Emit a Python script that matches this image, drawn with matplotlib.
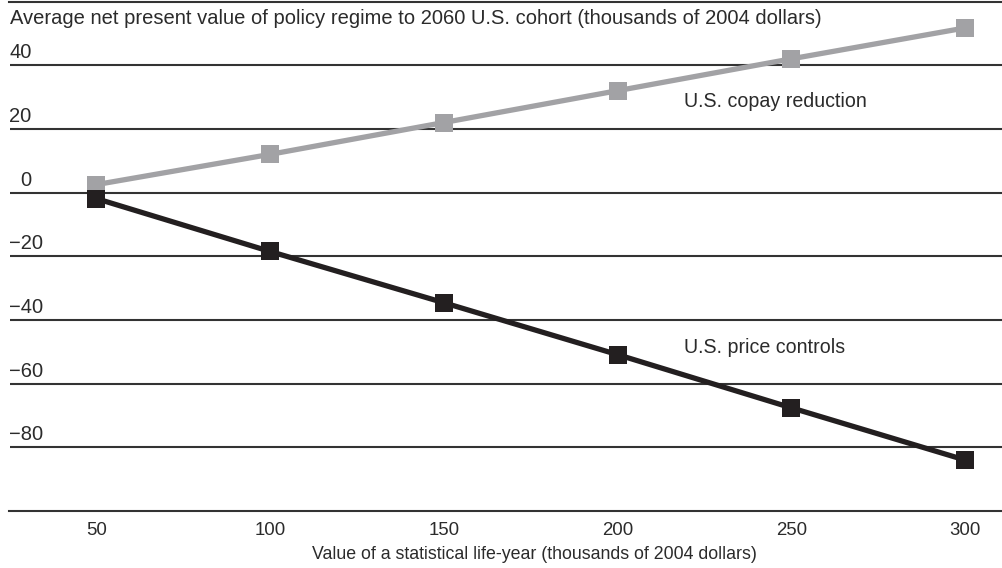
import matplotlib
matplotlib.use("Agg")
import matplotlib.pyplot as plt
from matplotlib.transforms import blended_transform_factory, offset_copy

# Data
vsly = [50, 100, 150, 200, 250, 300]
copay_reduction = [2.5, 12.0, 22.0, 32.0, 42.0, 51.7]
price_controls = [-1.9, -18.5, -34.6, -50.9, -67.6, -84.0]
y_ticks = [40, 20, 0, -20, -40, -60, -80]
x_ticks = [50, 100, 150, 200, 250, 300]

title = "Average net present value of policy regime to 2060 U.S. cohort (thousands of 2004 dollars)"
xlabel = "Value of a statistical life-year (thousands of 2004 dollars)"

plt.rcParams['font.family'] = ['Liberation Sans', 'DejaVu Sans']
TXT = '#2b2b2b'
GRID = '#333333'

fig = plt.figure(figsize=(10.02, 5.68), dpi=100)
ax = fig.add_axes([9.5 / 1002, 1 - 511 / 568, 1 - 9.5 / 1002, (511 - 1.5) / 568])
ax.set_xlim(25, 310.6)
ax.set_ylim(-100, 60)

for s in ['left', 'right']:
    ax.spines[s].set_visible(False)
for s in ['top', 'bottom']:
    ax.spines[s].set_color(GRID)
    ax.spines[s].set_linewidth(1.5)

for yv in y_ticks:
    ax.axhline(yv, color=GRID, lw=1.5, zorder=1)

ax.plot(vsly, copay_reduction, color='#a2a2a5', lw=3.8, marker='s', ms=13.5,
        markeredgewidth=0, zorder=3)
ax.plot(vsly, price_controls, color='#231f20', lw=3.8, marker='s', ms=13.5,
        markeredgewidth=0, zorder=4)

ax.set_yticks([])
ax.set_xticks(x_ticks)
ax.set_xticklabels([str(v) for v in x_ticks], fontsize=13.4, color=TXT)
ax.tick_params(axis='x', length=0, pad=8)
ax.set_xlabel(xlabel, fontsize=12.8, color=TXT, labelpad=5)
ax.xaxis.set_label_coords((534 - 9.5) / 992.5, -0.068)

trans = blended_transform_factory(ax.transAxes, ax.transData)
for yv in y_ticks:
    lab = str(yv).replace('-', '\u2212')
    t = offset_copy(trans, fig=fig, x=(11 if yv == 0 else 0), y=7, units='dots')
    ax.text(0, yv, lab, transform=t, ha='left', va='baseline', fontsize=14.5, color=TXT)

fig.text(10 / 1002, 1 - 18 / 568, title, ha='left', va='center', fontsize=14.5, color=TXT)

ax.text(219.2, 28.7, "U.S. copay reduction", ha='left', va='center', fontsize=14.1, color=TXT)
ax.text(219.2, -48.7, "U.S. price controls", ha='left', va='center', fontsize=14.1, color=TXT)

fig.savefig('out.png', dpi=100)
